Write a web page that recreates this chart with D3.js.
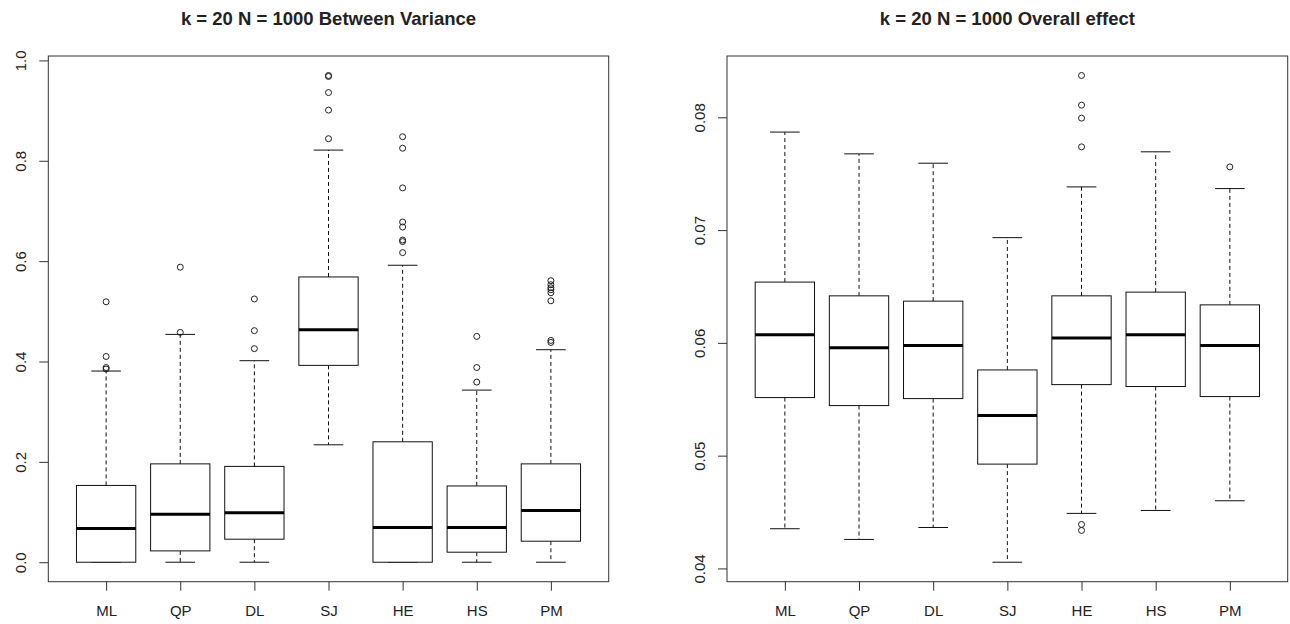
<!DOCTYPE html>
<html>
<head>
<meta charset="utf-8">
<script src="https://cdn.jsdelivr.net/npm/d3@7/dist/d3.min.js"></script>
<style>
  body { margin: 0; background: #fff; }
  svg text { font-family: "Liberation Sans", Arial, sans-serif; fill: #222; }
</style>
</head>
<body>
<svg width="1290" height="624"></svg>
<script>
// methods on the x axis
var categories = ["ML", "QP", "DL", "SJ", "HE", "HS", "PM"];

// left panel: between variance
var varTitle = "k = 20 N = 1000 Between Variance";
var varLow  = [0, 0, 0, 0.234, 0, 0, 0];
var varQ1   = [0, 0.0226, 0.0459, 0.3923, 0, 0.020, 0.0419];
var varMed  = [0.067, 0.0957, 0.0984, 0.4634, 0.0692, 0.069, 0.103];
var varQ3   = [0.153, 0.196, 0.191, 0.5685, 0.240, 0.152, 0.196];
var varHigh = [0.381, 0.454, 0.4016, 0.8213, 0.5918, 0.343, 0.4235];
var varOut  = [
  [0.519, 0.41, 0.388, 0.385],
  [0.588, 0.458],
  [0.5246, 0.4615, 0.4256],
  [0.970, 0.968, 0.936, 0.901, 0.844],
  [0.848, 0.825, 0.746, 0.678, 0.668, 0.642, 0.639, 0.617],
  [0.450, 0.388, 0.359],
  [0.561, 0.553, 0.547, 0.543, 0.537, 0.521, 0.442, 0.438]
];
var varTicks = [0, 0.2, 0.4, 0.6, 0.8, 1.0];

// right panel: overall effect
var effTitle = "k = 20 N = 1000 Overall effect";
var effLow  = [0.04352, 0.04257, 0.04363, 0.04055, 0.04488, 0.04514, 0.0460];
var effQ1   = [0.05515, 0.05444, 0.05506, 0.04925, 0.0563, 0.05613, 0.05524];
var effMed  = [0.06071, 0.05956, 0.05977, 0.05355, 0.06044, 0.06071, 0.05977];
var effQ3   = [0.06539, 0.06417, 0.0637, 0.0576, 0.06417, 0.0645, 0.06337];
var effHigh = [0.07869, 0.07676, 0.07593, 0.06933, 0.07383, 0.07694, 0.07368];
var effOut  = [
  [], [], [], [],
  [0.08371, 0.08108, 0.07993, 0.07738, 0.0439, 0.04337],
  [],
  [0.0756]
];
var effTicks = [0.04, 0.05, 0.06, 0.07, 0.08];

var svg = d3.select("svg");

function drawPanel(left, right, title, low, q1, med, q3, high, out, ticks, fmt) {
    var top = 56, bottom = 581.7;
    var rows = categories.map(function(c, i) {
        return {name: c, i: i + 1, low: low[i], q1: q1[i], med: med[i], q3: q3[i], high: high[i], out: out[i]};
    });

    // R style: 4% padding around data range
    var all = [];
    rows.forEach(function(r) { all.push(r.low, r.high); all = all.concat(r.out); });
    var ext = d3.extent(all), pad = (ext[1] - ext[0]) * 0.04;
    var y = d3.scaleLinear().domain([ext[0] - pad, ext[1] + pad]).range([bottom, top]);
    var x = d3.scaleLinear().domain([0.22, categories.length + 0.78]).range([left, right]);
    var bw = x(1.4) - x(1);   // half box width
    var cw = x(1.2) - x(1);   // half cap width

    var g = svg.append("g");

    g.append("text")
      .attr("x", (left + right) / 2)
      .attr("y", 25)
      .attr("text-anchor", "middle")
      .attr("font-weight", "bold")
      .attr("font-size", 18.5)
      .text(title);

    var box = g.selectAll("g.box").data(rows).enter().append("g").attr("class", "box");

    // dashed whiskers
    box.append("line")
      .attr("x1", function(d) { return x(d.i); }).attr("x2", function(d) { return x(d.i); })
      .attr("y1", function(d) { return y(d.q3); }).attr("y2", function(d) { return y(d.high); })
      .attr("stroke", "#111").attr("stroke-dasharray", "4,3");
    box.append("line")
      .attr("x1", function(d) { return x(d.i); }).attr("x2", function(d) { return x(d.i); })
      .attr("y1", function(d) { return y(d.q1); }).attr("y2", function(d) { return y(d.low); })
      .attr("stroke", "#111").attr("stroke-dasharray", "4,3");

    // caps
    box.append("line")
      .attr("x1", function(d) { return x(d.i) - cw; }).attr("x2", function(d) { return x(d.i) + cw; })
      .attr("y1", function(d) { return y(d.high); }).attr("y2", function(d) { return y(d.high); })
      .attr("stroke", "#111");
    box.append("line")
      .attr("x1", function(d) { return x(d.i) - cw; }).attr("x2", function(d) { return x(d.i) + cw; })
      .attr("y1", function(d) { return y(d.low); }).attr("y2", function(d) { return y(d.low); })
      .attr("stroke", "#111");

    box.append("rect")
      .attr("x", function(d) { return x(d.i) - bw; })
      .attr("width", 2 * bw)
      .attr("y", function(d) { return y(d.q3); })
      .attr("height", function(d) { return y(d.q1) - y(d.q3); })
      .attr("fill", "#fff").attr("stroke", "#111");

    box.append("line")
      .attr("x1", function(d) { return x(d.i) - bw; }).attr("x2", function(d) { return x(d.i) + bw; })
      .attr("y1", function(d) { return y(d.med); }).attr("y2", function(d) { return y(d.med); })
      .attr("stroke", "#000").attr("stroke-width", 3);

    box.selectAll("circle")
      .data(function(d) { return d.out.map(function(v) { return {i: d.i, v: v}; }); })
      .enter().append("circle")
      .attr("cx", function(d) { return x(d.i); })
      .attr("cy", function(d) { return y(d.v); })
      .attr("r", 3)
      .attr("fill", "none").attr("stroke", "#222");

    // frame
    g.append("rect")
      .attr("x", left).attr("y", top)
      .attr("width", right - left).attr("height", bottom - top)
      .attr("fill", "none").attr("stroke", "#333");

    var ya = g.append("g")
      .attr("transform", "translate(" + left + ",0)")
      .call(d3.axisLeft(y).tickValues(ticks).tickFormat(d3.format(fmt)).tickSize(9));
    ya.select(".domain").remove();
    ya.selectAll(".tick line").attr("stroke", "#333");
    ya.selectAll(".tick text")
      .attr("transform", "rotate(-90)")
      .attr("x", 0).attr("y", -22).attr("dy", 0)
      .attr("text-anchor", "middle")
      .attr("font-size", 15)
      .attr("fill", "#222");

    var xa = g.append("g")
      .attr("transform", "translate(0," + bottom + ")")
      .call(d3.axisBottom(x).tickValues(d3.range(1, categories.length + 1))
            .tickFormat(function(d) { return categories[d - 1]; }).tickSize(9));
    xa.select(".domain").remove();
    xa.selectAll(".tick line").attr("stroke", "#333");
    xa.selectAll(".tick text")
      .attr("y", 34).attr("dy", 0)
      .attr("font-size", 15)
      .attr("fill", "#222");

    ya.attr("font-family", null);
    xa.attr("font-family", null);
}

drawPanel(48.3, 608.7, varTitle, varLow, varQ1, varMed, varQ3, varHigh, varOut, varTicks, ".1f");
drawPanel(727, 1287.7, effTitle, effLow, effQ1, effMed, effQ3, effHigh, effOut, effTicks, ".2f");
</script>
</body>
</html>
